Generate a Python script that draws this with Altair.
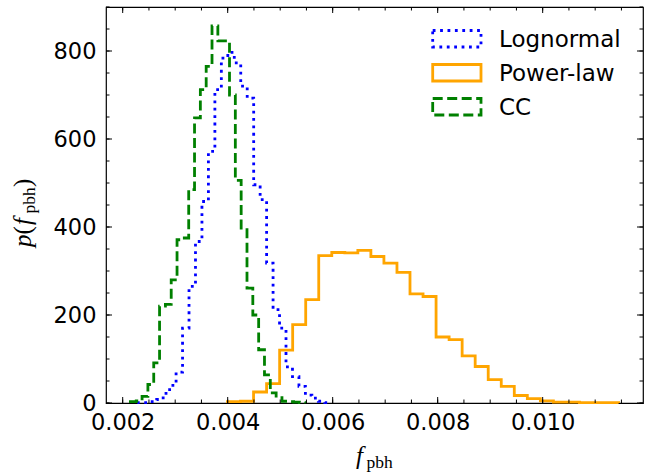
import altair as alt
import numpy as np
import pandas as pd

# ---------------- data ----------------
series_names = ["Lognormal", "Power-law", "CC"]
series_colors = ["#0000ff", "#ffa500", "#008000"]

# Lognormal: 30 bins
logn_range = (0.002278, 0.005973)
logn_density = [1, 1, 3, 8, 22, 40, 70, 170, 265, 367, 458, 572, 712, 784, 797,
                773, 720, 693, 496, 462, 318, 212, 170, 82, 60, 38, 18, 11, 4, 1]

# Power-law: 30 bins
pl_range = (0.003996, 0.011446)
pl_density = [3, 4, 25, 44, 120, 178, 235, 335, 342, 341, 347, 333, 318, 297, 248,
              242, 150, 144, 107, 83, 53, 38, 17, 10, 5, 2, 2, 1, 1, 1]

# CC: 30 bins
cc_range = (0.002147, 0.005478)
cc_density = [3, 5, 15, 42, 91, 220, 224, 280, 371, 375, 485, 648, 712, 765, 857,
              823, 823, 700, 506, 394, 261, 200, 121, 64, 23, 12, 4, 3, 2, 1]

x_major = [0.002, 0.004, 0.006, 0.008, 0.010]
x_minor = [0.002, 0.0025, 0.003, 0.0035, 0.004, 0.0045, 0.005, 0.0055, 0.006,
           0.0065, 0.007, 0.0075, 0.008, 0.0085, 0.009, 0.0095, 0.010, 0.0105,
           0.011, 0.0115]
y_major = [0, 200, 400, 600, 800]
y_minor = [0, 50, 100, 150, 200, 250, 300, 350, 400, 450, 500, 550, 600, 650,
           700, 750, 800, 850, 900]

x_domain = [0.001682, 0.011911]
y_domain = [0, 900]

W, H = 537, 396
MAJ, MIN = 6, 3.5


def step_frame(name, rng, dens):
    edges = np.linspace(rng[0], rng[1], len(dens) + 1)
    xs = [edges[0]] + list(edges[:-1]) + [edges[-1]]
    ys = [0] + list(dens) + [0]
    return pd.DataFrame({"series": name, "x": xs, "y": ys,
                         "order": list(range(len(xs)))})


df_logn = step_frame(series_names[0], logn_range, logn_density)
df_pl = step_frame(series_names[1], pl_range, pl_density)
df_cc = step_frame(series_names[2], cc_range, cc_density)

xscale = alt.Scale(domain=x_domain, nice=False, zero=False)
yscale = alt.Scale(domain=y_domain, nice=False, zero=False)

xaxis = alt.Axis(values=x_major, format=".3f", labelFont="DejaVu Sans",
                 labelFontSize=22.5, labelColor="black", ticks=False,
                 domain=False, grid=False, labelPadding=8, labelFlush=False)
yaxis = alt.Axis(values=y_major, format="d", labelFont="DejaVu Sans",
                 labelFontSize=22.5, labelColor="black", ticks=False,
                 domain=False, grid=False, labelPadding=10)


def X(field):
    return alt.X(field, scale=xscale, axis=xaxis, title="")


def Y(field):
    return alt.Y(field, scale=yscale, axis=yaxis, title="")


def hist_layer(df, color, dash):
    mark_kw = dict(interpolate="step-after", color=color, strokeWidth=2.8)
    if dash:
        mark_kw["strokeDash"] = dash
    return alt.Chart(df).mark_line(**mark_kw).encode(
        x=X("x:Q"), y=Y("y:Q"), order="order:Q")


layers = [
    hist_layer(df_logn, series_colors[0], [2.8, 4.6]),
    hist_layer(df_pl, series_colors[1], None),
    hist_layer(df_cc, series_colors[2], [10, 4.5]),
]

# ---------------- ticks (inward, all four sides) ----------------
def xticks(vals, length):
    d = pd.DataFrame({"x": vals})
    base = alt.Chart(d).mark_rule(color="black", strokeWidth=1)
    bot = base.encode(x=X("x:Q"), y=alt.value(H), y2=alt.value(H - length))
    top = base.encode(x=X("x:Q"), y=alt.value(0), y2=alt.value(length))
    return [bot, top]


def yticks(vals, length):
    d = pd.DataFrame({"y": vals})
    base = alt.Chart(d).mark_rule(color="black", strokeWidth=1)
    left = base.encode(y=Y("y:Q"), x=alt.value(0), x2=alt.value(length))
    right = base.encode(y=Y("y:Q"), x=alt.value(W), x2=alt.value(W - length))
    return [left, right]


layers += xticks(x_minor, MIN) + xticks(x_major, MAJ)
layers += yticks(y_minor, MIN) + yticks(y_major, MAJ)

# ---------------- legend (patch outlines) ----------------
leg_x0, leg_x1 = 326.7, 375
leg_rows = [(23.5, 40), (57.5, 74), (91.5, 108)]
leg_dash = [[2.8, 4.6], None, [10, 4.5]]
one = pd.DataFrame({"a": [0]})
for name, col, dash, (y0, y1) in zip(series_names, series_colors, leg_dash, leg_rows):
    kw = dict(filled=False, stroke=col, strokeWidth=2.8)
    if dash:
        kw["strokeDash"] = dash
    layers.append(alt.Chart(one).mark_rect(**kw).encode(
        x=alt.value(leg_x0), x2=alt.value(leg_x1),
        y=alt.value(y0), y2=alt.value(y1)))
    layers.append(alt.Chart(one).mark_text(
        text=name, font="DejaVu Sans", fontSize=23, align="left",
        baseline="alphabetic", color="black").encode(
        x=alt.value(393), y=alt.value(y1)))

# ---------------- axis titles (math-like) ----------------
OX, OY = 106, 7  # plot origin in page pixels
serif = "Liberation Serif"


def txt(s, x, y, size, italic=False, angle=0):
    kw = dict(text=s, font=serif, fontSize=size, align="left",
              baseline="alphabetic", color="black")
    if italic:
        kw["fontStyle"] = "italic"
    if angle:
        kw["angle"] = angle
    return alt.Chart(one).mark_text(**kw).encode(
        x=alt.value(x - OX), y=alt.value(y - OY))

# x title: f_pbh
layers.append(txt("f", 356, 464, 25, italic=True))
layers.append(txt("pbh", 366.5, 468, 17.5))
# y title: p(f_pbh), rotated
layers.append(txt("p", 31, 247, 25, italic=True, angle=270))
layers.append(txt("(", 31, 234.5, 25, angle=270))
layers.append(txt("f", 31, 225, 25, italic=True, angle=270))
layers.append(txt("pbh", 35, 213.5, 17.5, angle=270))
layers.append(txt(")", 31, 187, 25, angle=270))

chart = alt.layer(*layers).properties(
    width=W, height=H,
    autosize=alt.AutoSizeParams(type="none"),
    padding={"left": OX, "top": OY, "right": 650 - OX - W, "bottom": 472 - OY - H},
    background="white",
).configure_view(stroke="black", strokeWidth=1.2)

chart.save("out.html", embed_options={"renderer": "svg", "actions": False})
